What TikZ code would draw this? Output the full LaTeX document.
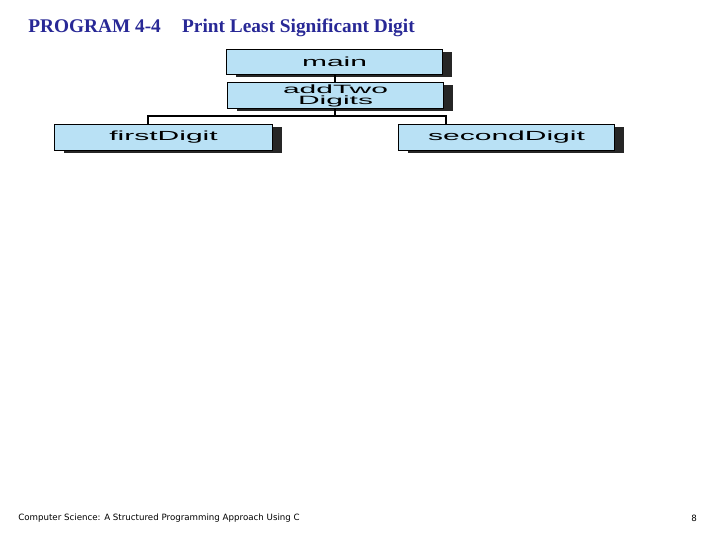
\documentclass[tikz,border=0pt]{standalone}
\usepackage{fontspec}
\setmainfont{Liberation Serif}
\newfontfamily\boxfont{Liberation Sans}
\newfontfamily\footfont{DejaVu Sans}
\begin{document}
\begin{tikzpicture}[x=0.75pt,y=-0.75pt,
  mbox/.style={draw=black,line width=0.8pt,fill={rgb,255:red,185;green,225;blue,245},inner sep=0pt,font=\boxfont\fontsize{9}{9}\selectfont,align=center},
  shadow/.style={fill=black!85},
  conn/.style={draw=black,line width=0.8pt}]
\useasboundingbox (0,0) rectangle (720,540);
\fill[white] (0,0) rectangle (720,540);
\node[anchor=west,inner sep=0pt,text={rgb,255:red,40;green,40;blue,150},font=\bfseries\fontsize{14.5}{16}\selectfont] (title) at (28,28) {PROGRAM 4-4\hspace{1.1em}Print Least Significant Digit};
% shadows
\fill[shadow] (236,52) rectangle (452,77);
\fill[shadow] (237,85) rectangle (453,111);
\fill[shadow] (64,127) rectangle (282,153);
\fill[shadow] (408,127) rectangle (624,153);
\node[mbox,anchor=north west,minimum width=162pt,minimum height=18.75pt] (main) at (226,49) {\scalebox{2.5}[1.1]{main}};
\node[mbox,anchor=north west,minimum width=162pt,minimum height=19.5pt] (add) at (227,82) {\scalebox{2.5}[1]{\shortstack{addTwo\\[-1.5pt]Digits}}};
\node[mbox,anchor=north west,minimum width=163.5pt,minimum height=19.5pt] (first) at (54,124) {\scalebox{2.5}[1.1]{firstDigit}};
\node[mbox,anchor=north west,minimum width=162pt,minimum height=19.5pt] (second) at (398,124) {\scalebox{2.5}[1.1]{secondDigit}};
\coordinate (j) at (335,116);
\draw[conn] (main.south -| j) -- (add.north -| j);
\draw[conn] (add.south -| j) -- (j);
\draw[conn] (first.north -| 148,0) -- (148,116) -- (446,116) -- (second.north -| 446,0);
\node[anchor=west,inner sep=0pt,font=\footfont\fontsize{6.5}{8}\selectfont] (foot) at (18,518) {Computer Science: A Structured Programming Approach Using C};
\node[font=\footfont\fontsize{6.5}{8}\selectfont] (page) at (694,518) {8};
\end{tikzpicture}
\end{document}
